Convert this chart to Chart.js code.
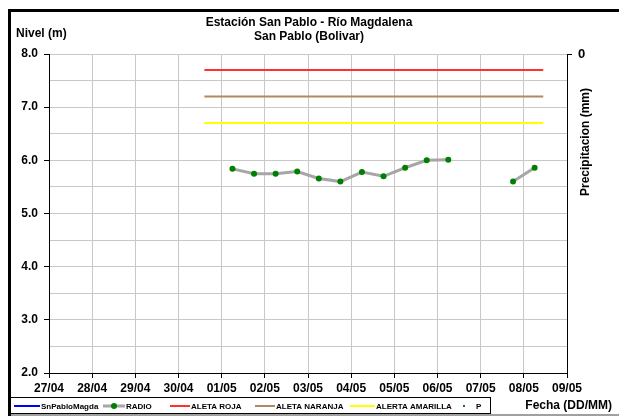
<!DOCTYPE html>
<html>
<head>
<meta charset="utf-8">
<script src="https://cdn.jsdelivr.net/npm/chart.js@4"></script>
<style>
  html, body { margin: 0; padding: 0; background: #fff; }
  #wrap { width: 619px; height: 416px; position: relative; }
</style>
</head>
<body>
<div id="wrap"><canvas id="nivelChart" width="619" height="416"></canvas></div>
<script>
// dias del eje x (0 = 27/04)
const dias = ["27/04", "28/04", "29/04", "30/04", "01/05", "02/05", "03/05",
  "04/05", "05/05", "06/05", "07/05", "08/05", "09/05"];

// lecturas RADIO (dias desde 27/04, nivel en m)
const radioX = [4.25, 4.75, 5.25, 5.75, 6.25, 6.75, 7.25, 7.75, 8.25, 8.75, 9.25, 9.75, 10.25, 10.75, 11.25];
const radioY = [5.84, 5.75, 5.75, 5.79, 5.66, 5.60, 5.78, 5.70, 5.86, 6.00, 6.01, null, null, 5.60, 5.86];

// niveles de alerta
const alertaX = [3.6, 11.45];
const alertaRoja = [7.7, 7.7];
const alertaNaranja = [7.2, 7.2];
const alertaAmarilla = [6.7, 6.7];

// series sin datos en el periodo
const snPabloMagda = [];
const precipitacion = [];

const puntos = (xs, ys) => xs.map((x, i) => ({ x: x, y: ys[i] }));

const FONT = "'Liberation Sans', Arial, sans-serif";

// titulos, leyenda y marco dibujados sobre el canvas
const decoraciones = {
  id: "decoraciones",
  afterDraw(chart) {
    const ctx = chart.ctx;
    ctx.save();
    // marco
    ctx.fillStyle = "#000";
    ctx.fillRect(8, 9, 3, 407);
    ctx.fillRect(8, 9, 611, 3);
    ctx.fillStyle = "#a0a0a0";
    ctx.fillRect(11, 414, 608, 2);

    ctx.fillStyle = "#000";
    ctx.font = "bold 12px " + FONT;
    ctx.textAlign = "center";
    ctx.textBaseline = "middle";
    ctx.fillText("Estación San Pablo - Río Magdalena", 309, 23);
    ctx.fillText("San Pablo (Bolivar)", 309, 37);

    ctx.textAlign = "left";
    ctx.fillText("Nivel (m)", 16, 34);

    ctx.textAlign = "right";
    ctx.fillText("Fecha (DD/MM)", 612, 406);

    // titulo eje derecho
    ctx.save();
    ctx.translate(586, 142);
    ctx.rotate(-Math.PI / 2);
    ctx.textAlign = "center";
    ctx.fillText("Precipitacion (mm)", 0, 0);
    ctx.restore();

    // leyenda
    ctx.strokeStyle = "#000";
    ctx.lineWidth = 1;
    ctx.strokeRect(10.5, 397.5, 480, 16);
    const items = [
      { ds: 0, x: 14, w: 26 },
      { ds: 1, x: 103, w: 22, dot: true },
      { ds: 2, x: 170, w: 20 },
      { ds: 3, x: 255, w: 20 },
      { ds: 4, x: 350, w: 25 },
      { ds: 5, x: 460, w: 8, small: true },
    ];
    ctx.font = "bold 8px " + FONT;
    ctx.textAlign = "left";
    const yL = 406;
    items.forEach((it) => {
      const ds = chart.data.datasets[it.ds];
      if (it.small) {
        ctx.fillStyle = ds.pointBackgroundColor;
        ctx.fillRect(it.x + 3, yL - 1, 2, 2);
      } else {
        ctx.strokeStyle = ds.borderColor;
        ctx.lineWidth = it.dot ? 3 : 2;
        ctx.beginPath();
        ctx.moveTo(it.x, yL);
        ctx.lineTo(it.x + it.w, yL);
        ctx.stroke();
        if (it.dot) {
          ctx.fillStyle = ds.pointBackgroundColor;
          ctx.beginPath();
          ctx.arc(it.x + it.w / 2, yL, 3, 0, Math.PI * 2);
          ctx.fill();
        }
      }
      ctx.fillStyle = "#000";
      ctx.fillText(ds.label, it.x + it.w + (it.small ? 8 : 1), yL + 1);
    });
    ctx.restore();
  },
};

const lineaAlerta = (label, color, ys) => ({
  label: label,
  data: puntos(alertaX, ys),
  borderColor: color,
  borderWidth: 2,
  pointRadius: 0,
  yAxisID: "y",
});

new Chart(document.getElementById("nivelChart"), {
  type: "line",
  data: {
    datasets: [
      {
        label: "SnPabloMagda",
        data: snPabloMagda,
        borderColor: "#0000ff",
        borderWidth: 2,
        pointRadius: 0,
      },
      {
        label: "RADIO",
        data: puntos(radioX, radioY),
        borderColor: "#a6a6a6",
        borderWidth: 3,
        pointRadius: 3,
        pointBackgroundColor: "#008000",
        pointBorderColor: "#008000",
        pointBorderWidth: 0,
        spanGaps: false,
      },
      lineaAlerta("ALETA ROJA", "#ff3030", alertaRoja),
      lineaAlerta("ALETA NARANJA", "#b3875f", alertaNaranja),
      lineaAlerta("ALERTA AMARILLA", "#ffff00", alertaAmarilla),
      {
        label: "P",
        data: precipitacion,
        showLine: false,
        pointBackgroundColor: "#008000",
        borderColor: "#008000",
        yAxisID: "y1",
      },
    ],
  },
  options: {
    responsive: false,
    animation: false,
    layout: { padding: { top: 54, left: 0, right: 0, bottom: 0 } },
    plugins: {
      legend: { display: false },
      title: { display: false },
      tooltip: { enabled: false },
    },
    scales: {
      x: {
        type: "linear",
        min: 0,
        max: 12,
        afterFit: (s) => { s.height = 43; },
        ticks: {
          stepSize: 1,
          color: "#000",
          font: { family: FONT, size: 12, weight: "bold" },
          padding: 3,
          maxRotation: 0,
          callback: (v) => dias[v],
        },
        grid: { color: "#c8c8c8", tickColor: "#000", tickLength: 5 },
        border: { color: "#000", width: 1 },
      },
      y: {
        min: 2,
        max: 8,
        afterFit: (s) => { s.width = 49; },
        ticks: {
          stepSize: 0.5,
          color: "#000",
          font: { family: FONT, size: 12, weight: "bold" },
          padding: 6,
          callback: (v) => (v % 1 === 0 ? v.toFixed(1) : ""),
        },
        grid: {
          color: "#c8c8c8",
          tickLength: 5,
          tickColor: (c) => (c.tick && c.tick.value % 1 === 0 ? "#000" : "rgba(0,0,0,0)"),
        },
        border: { color: "#000", width: 1 },
      },
      y1: {
        position: "right",
        min: 0,
        max: 10,
        reverse: true,
        afterFit: (s) => { s.width = 52; },
        afterBuildTicks: (s) => { s.ticks = [{ value: 0 }]; },
        ticks: {
          color: "#000",
          font: { family: FONT, size: 13, weight: "bold" },
          padding: 6,
          callback: (v) => (v === 0 ? "0" : ""),
        },
        grid: { drawOnChartArea: false, tickColor: "#000", tickLength: 5 },
        border: { color: "#000", width: 1 },
      },
    },
  },
  plugins: [decoraciones],
});
</script>
</body>
</html>
